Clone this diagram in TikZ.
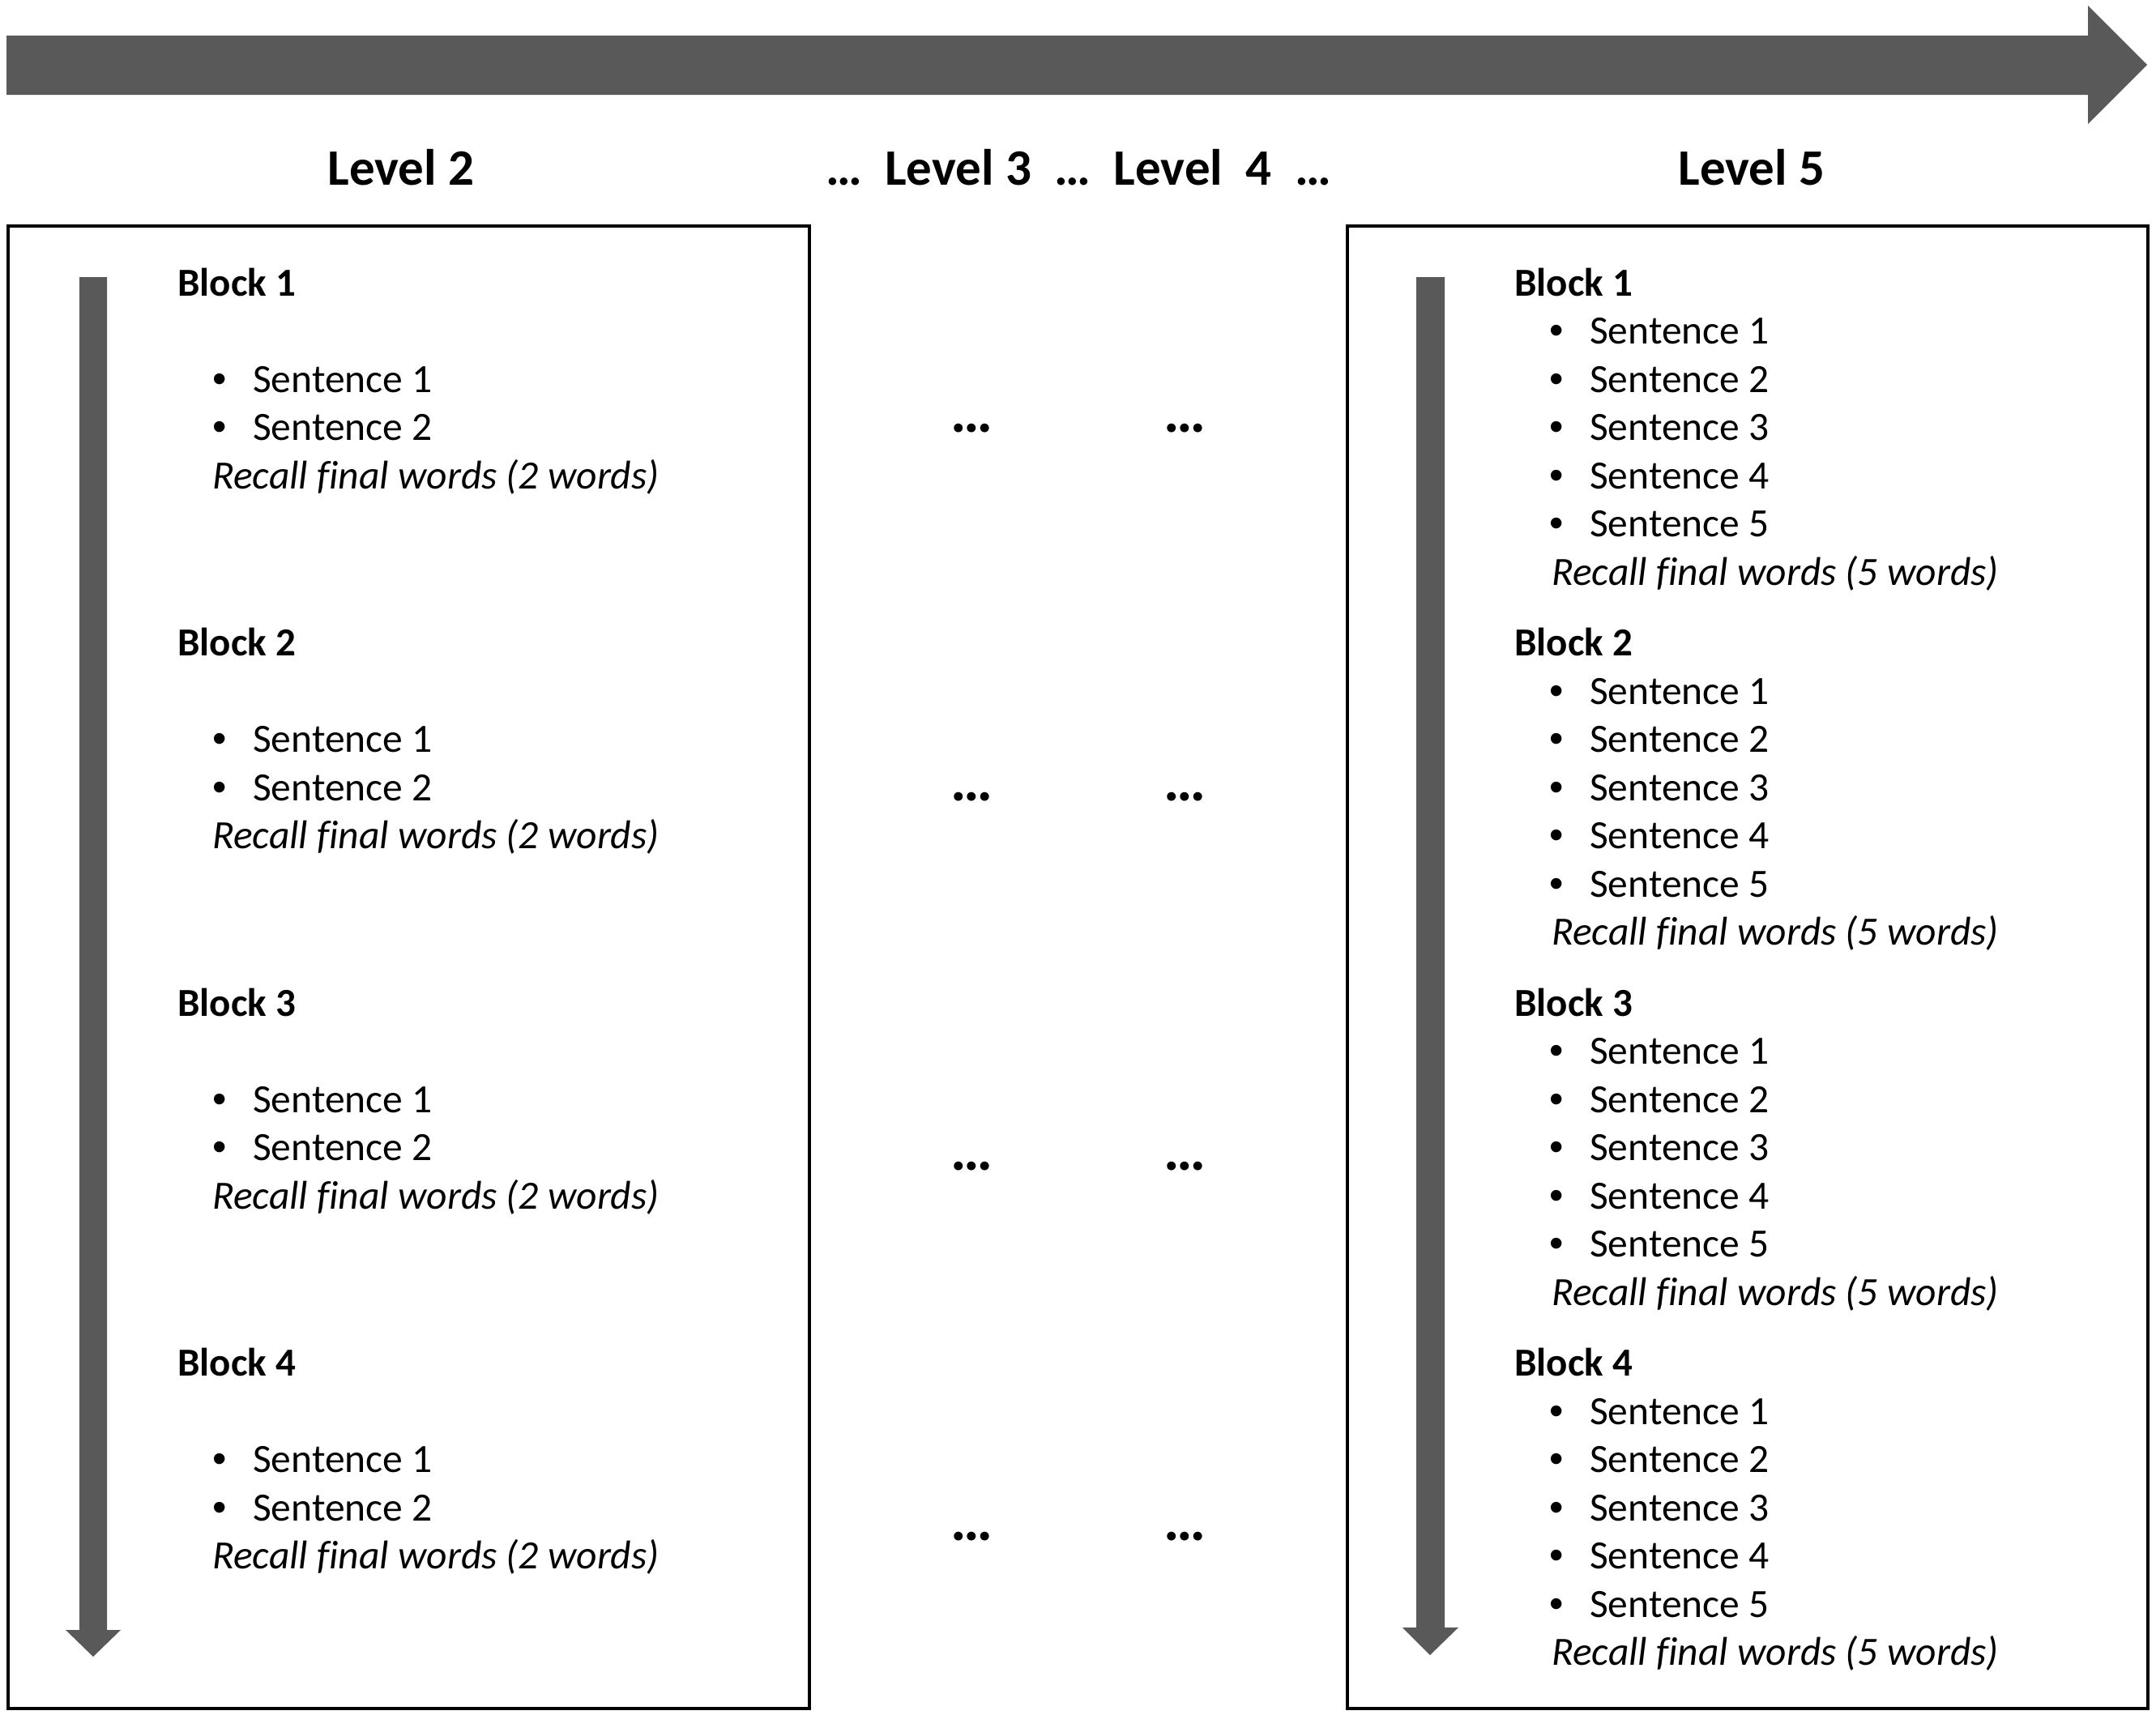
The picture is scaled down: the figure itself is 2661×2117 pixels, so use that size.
\documentclass[tikz,border=0pt]{standalone}
\usepackage{fontspec}
\setmainfont{Carlito}[Ligatures=NoCommon]
\newfontfamily\bulletfont{Liberation Sans}
\definecolor{arrgray}{HTML}{595959}
\begin{document}
\begin{tikzpicture}[x=1pt,y=-1pt,
  txt/.style={anchor=base west,inner sep=0pt,font=\fontsize{49.5}{59}\selectfont},
  bul/.style={anchor=base west,inner sep=0pt,font=\bulletfont\fontsize{49.5}{59}\selectfont},
  blk/.style={txt,font=\fontsize{49}{59}\selectfont\bfseries},
  rec/.style={txt,font=\fontsize{49.5}{59}\selectfont\itshape},
  hd/.style={anchor=base,inner sep=0pt,font=\fontsize{63}{76}\selectfont\bfseries},
  dts/.style={anchor=base,inner sep=0pt,font=\fontsize{73}{80}\selectfont\bfseries},
  panel/.style={draw=black,line width=3.5pt},
  bigarrow/.style={fill=arrgray,draw=none}]
\useasboundingbox (0,0) rectangle (2661,2117);
% top arrow
\coordinate (ta) at (8,80);
\coordinate (tb) at (2650,80);
\fill[bigarrow] (8,44) -- (2577,44) -- (2577,7) -- (tb) -- (2577,153) -- (2577,117) -- (8,117) -- cycle;
% headings
\node[hd] (h2) at (495,228) {Level 2};
\node[hd] (h34) at (1331,228) {\ldots\ \ Level 3\ \ \ldots\ \ Level\ \ 4\ \ \ldots};
\node[hd] (h5) at (2162,228) {Level 5};
% panels
\node[panel,minimum width=989pt,minimum height=1830pt,anchor=north west,inner sep=0pt] (lp) at (8,277) {};
\node[panel,minimum width=988pt,minimum height=1830pt,anchor=north west,inner sep=0pt] (rp) at (1661,277) {};
% vertical arrows
\fill[bigarrow] (98,342) -- (132,342) -- (132,2012) -- (149,2012) -- (115,2045) -- (81,2012) -- (98,2012) -- cycle;
\fill[bigarrow] (1748,342) -- (1783,342) -- (1783,2009) -- (1800,2009) -- (1765,2043) -- (1731,2009) -- (1748,2009) -- cycle;
% left panel content
\foreach \k in {1,...,4}{
  \pgfmathsetmacro\yb{365+(\k-1)*444.6}
  \node[blk] (lb\k) at (219,\yb) {Block \k};
  \foreach \j in {1,2}{
    \pgfmathsetmacro\ys{\yb+59.5*(\j+1)}
    \node[bul] (lbu\k\j) at (262,\ys) {•};
    \node[txt] (ls\k\j) at (312,\ys) {Sentence \j};
  }
  \pgfmathsetmacro\yr{\yb+59.5*4}
  \node[rec] (lr\k) at (262,\yr) {Recall final words (2 words)};
}
% right panel content
\foreach \k in {1,...,4}{
  \pgfmathsetmacro\yb{365+(\k-1)*444.6}
  \node[blk] (rb\k) at (1869,\yb) {Block \k};
  \foreach \j in {1,...,5}{
    \pgfmathsetmacro\ys{\yb+59.5*\j}
    \node[bul] (rbu\k\j) at (1912,\ys) {•};
    \node[txt] (rs\k\j) at (1962,\ys) {Sentence \j};
  }
  \pgfmathsetmacro\yr{\yb+59.5*6}
  \node[rec] (rr\k) at (1915,\yr) {Recall final words (5 words)};
}
% middle dots
\foreach \y [count=\i] in {533,988,1444,1901}{
  \node[dts] (da\i) at (1199,\y) {\ldots};
  \node[dts] (db\i) at (1462,\y) {\ldots};
}
\end{tikzpicture}
\end{document}
